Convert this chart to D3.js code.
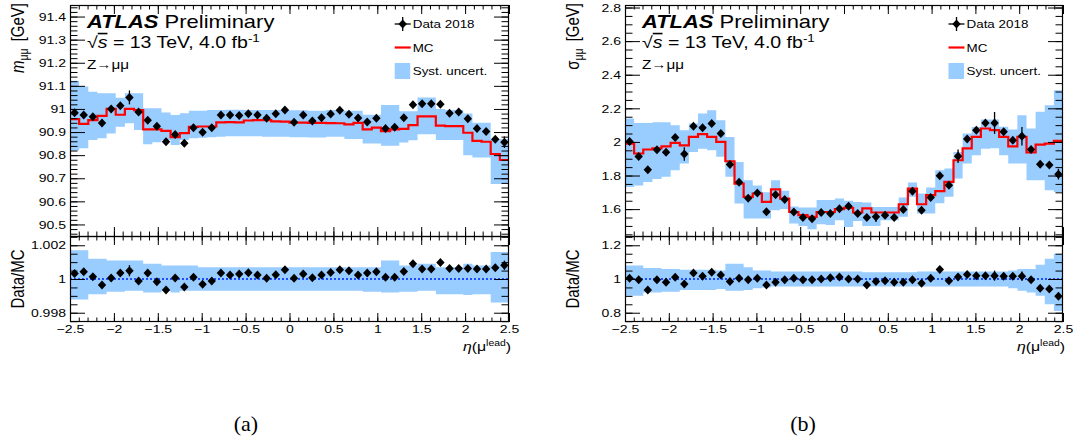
<!DOCTYPE html>
<html><head><meta charset="utf-8">
<script src="https://cdn.jsdelivr.net/npm/d3@7"></script>
<style>body{margin:0;background:#fff;} svg{display:block;}</style>
</head><body>
<svg id="c" width="1083" height="438"></svg>
<script>
// ---------------- data ----------------
const etaRange = [-2.5, 2.5];
const nBins = 48;

// (a) mean mass m_mumu [GeV]
const massData = [90.984,90.974,90.966,90.939,91.000,91.014,91.050,90.987,90.951,90.925,90.858,90.889,90.851,90.919,90.899,90.919,90.974,90.974,90.972,90.979,90.974,90.960,90.979,90.995,90.942,90.974,90.948,90.962,90.978,90.994,90.977,90.961,90.943,90.960,90.915,90.921,90.962,91.018,91.023,91.023,91.020,90.981,90.987,90.958,90.915,90.902,90.869,90.856];
const massErr  = [0.007,0.007,0.007,0.007,0.007,0.007,0.030,0.007,0.007,0.007,0.007,0.007,0.007,0.016,0.007,0.007,0.007,0.007,0.007,0.007,0.007,0.007,0.007,0.007,0.007,0.007,0.007,0.007,0.007,0.007,0.007,0.007,0.007,0.007,0.007,0.007,0.007,0.007,0.007,0.007,0.007,0.007,0.007,0.007,0.008,0.010,0.012,0.025];
const massMC   = [90.956,90.935,90.952,90.970,91.000,90.975,91.000,90.995,90.912,90.912,90.905,90.878,90.895,90.922,90.924,90.924,90.942,90.943,90.942,90.950,90.952,90.952,90.946,90.945,90.941,90.941,90.940,90.940,90.939,90.938,90.933,90.940,90.912,90.919,90.904,90.912,90.914,90.930,90.968,90.968,90.928,90.926,90.926,90.897,90.862,90.858,90.805,90.779];
const massSystHi = [91.122,91.097,91.075,91.068,91.068,91.049,91.068,91.068,91.003,91.003,90.985,90.974,90.981,90.992,90.992,90.995,90.995,90.996,90.996,90.995,90.995,90.995,90.995,90.995,90.994,90.994,90.992,90.992,90.995,90.995,90.992,90.992,90.975,90.975,91.017,91.017,90.990,90.990,91.050,91.050,91.000,90.995,90.995,90.980,90.940,90.940,90.870,90.870];
const massSystLo = [90.820,90.830,90.866,90.873,90.894,90.923,90.938,90.909,90.847,90.856,90.866,90.844,90.866,90.873,90.875,90.878,90.880,90.882,90.882,90.882,90.882,90.880,90.880,90.880,90.878,90.878,90.876,90.876,90.880,90.880,90.870,90.870,90.850,90.850,90.841,90.841,90.855,90.865,90.890,90.890,90.866,90.866,90.866,90.800,90.790,90.790,90.675,90.675];
const massRatio = [1.00033,1.00043,1.00013,0.99965,1.00006,1.00035,1.00049,0.99988,1.00035,0.99984,0.99935,1.00006,0.99953,1.00010,0.99969,0.99988,1.00035,1.00023,1.00030,1.00037,1.00023,1.00004,1.00025,1.00055,1.00004,1.00030,1.00008,1.00023,1.00039,1.00055,1.00049,1.00023,1.00035,1.00043,1.00010,1.00010,1.00045,1.00090,1.00059,1.00059,1.00098,1.00062,1.00062,1.00062,1.00059,1.00059,1.00066,1.00082];
const massRatioErr = [0.00008,0.00008,0.00008,0.00008,0.00008,0.00008,0.00033,0.00008,0.00008,0.00008,0.00008,0.00008,0.00008,0.00018,0.00008,0.00008,0.00008,0.00008,0.00008,0.00008,0.00008,0.00008,0.00008,0.00008,0.00008,0.00008,0.00008,0.00008,0.00008,0.00008,0.00008,0.00008,0.00008,0.00008,0.00008,0.00008,0.00008,0.00008,0.00008,0.00008,0.00008,0.00008,0.00008,0.00008,0.00009,0.00011,0.00013,0.00027];
const massRatioHi = [1.0017,1.0017,1.0012,1.0012,1.0011,1.0011,1.0011,1.0011,1.0009,1.0009,1.0008,1.0008,1.0008,1.0008,1.0007,1.0007,1.0007,1.0007,1.0007,1.0007,1.0007,1.0007,1.0007,1.0007,1.0007,1.0007,1.0007,1.0007,1.0007,1.0007,1.0007,1.0007,1.0007,1.0007,1.0011,1.0011,1.0008,1.0008,1.0009,1.0009,1.0007,1.0007,1.0007,1.0009,1.0008,1.0008,1.0016,1.0016];
const massRatioLo = [0.99878,0.99878,0.99910,0.99910,0.99925,0.99925,0.99930,0.99930,0.99920,0.99920,0.99930,0.99920,0.99930,0.99930,0.99930,0.99930,0.99930,0.99930,0.99930,0.99930,0.99930,0.99930,0.99930,0.99930,0.99930,0.99930,0.99930,0.99930,0.99930,0.99930,0.99930,0.99930,0.99925,0.99925,0.99920,0.99920,0.99925,0.99925,0.99930,0.99930,0.99910,0.99910,0.99910,0.99905,0.99910,0.99910,0.99860,0.99860];

// (b) width sigma_mumu [GeV]
const widthData = [2.003,1.913,1.834,1.953,1.938,2.026,1.928,2.094,2.085,2.109,2.050,1.866,1.760,1.665,1.696,1.585,1.685,1.657,1.583,1.550,1.542,1.580,1.574,1.602,1.617,1.574,1.550,1.554,1.564,1.550,1.598,1.707,1.593,1.669,1.798,1.742,1.915,2.018,2.070,2.113,2.113,2.060,2.010,2.034,1.955,1.867,1.863,1.808];
const widthErr  = [0.010,0.010,0.010,0.010,0.010,0.010,0.040,0.010,0.010,0.010,0.010,0.010,0.010,0.010,0.012,0.010,0.010,0.010,0.010,0.010,0.010,0.010,0.010,0.010,0.010,0.010,0.010,0.030,0.010,0.010,0.010,0.010,0.010,0.010,0.012,0.010,0.040,0.012,0.012,0.012,0.065,0.012,0.012,0.055,0.012,0.015,0.015,0.032];
const widthMC   = [1.990,1.931,1.955,1.961,1.974,1.994,1.980,2.030,2.046,2.030,2.000,1.885,1.752,1.673,1.693,1.643,1.717,1.663,1.583,1.564,1.554,1.583,1.583,1.600,1.607,1.580,1.604,1.580,1.580,1.580,1.629,1.722,1.629,1.683,1.707,1.762,1.891,1.961,2.030,2.080,2.070,2.030,1.974,2.030,1.937,1.984,1.990,2.006];
const widthSystHi = [2.139,2.113,2.113,2.117,2.117,2.099,2.070,2.109,2.169,2.189,2.129,2.030,1.881,1.772,1.740,1.700,1.772,1.710,1.615,1.610,1.610,1.655,1.655,1.663,1.650,1.643,1.640,1.613,1.613,1.613,1.669,1.758,1.693,1.729,1.832,1.842,1.940,2.050,2.089,2.133,2.133,2.090,2.074,2.159,2.080,2.179,2.218,2.308];
const widthSystLo = [1.732,1.740,1.762,1.780,1.792,1.832,1.871,1.940,1.960,1.950,1.911,1.792,1.633,1.544,1.544,1.544,1.593,1.600,1.514,1.500,1.480,1.510,1.505,1.534,1.494,1.530,1.500,1.500,1.534,1.534,1.554,1.673,1.574,1.574,1.635,1.673,1.782,1.871,1.921,1.960,1.962,1.921,1.871,1.871,1.772,1.772,1.712,1.702];
const widthRatio = [1.005,0.995,0.935,0.995,0.980,1.010,0.970,1.035,1.017,1.040,1.024,0.985,1.005,0.995,1.005,0.964,0.980,0.995,1.005,0.995,0.995,1.000,1.007,1.012,1.000,1.000,0.964,0.985,0.990,0.980,0.980,0.995,0.975,1.005,1.057,0.990,1.012,1.027,1.020,1.020,1.020,1.017,1.017,1.017,0.995,0.945,0.940,0.897];
const widthRatioErr = [0.005,0.005,0.005,0.005,0.005,0.005,0.020,0.005,0.005,0.005,0.005,0.005,0.005,0.005,0.006,0.005,0.005,0.005,0.005,0.005,0.005,0.005,0.005,0.005,0.005,0.005,0.005,0.018,0.005,0.005,0.005,0.005,0.005,0.005,0.006,0.005,0.020,0.006,0.006,0.006,0.030,0.006,0.006,0.028,0.006,0.008,0.008,0.016];
const widthRatioHi = [1.080,1.080,1.065,1.065,1.060,1.060,1.055,1.055,1.055,1.055,1.050,1.090,1.090,1.070,1.050,1.050,1.045,1.045,1.045,1.045,1.045,1.045,1.045,1.045,1.045,1.045,1.040,1.040,1.040,1.040,1.040,1.040,1.045,1.045,1.045,1.045,1.045,1.045,1.045,1.045,1.045,1.045,1.050,1.060,1.060,1.085,1.120,1.150];
const widthRatioLo = [0.900,0.900,0.920,0.920,0.925,0.925,0.935,0.935,0.935,0.935,0.940,0.930,0.930,0.935,0.945,0.950,0.955,0.955,0.955,0.955,0.955,0.955,0.955,0.955,0.955,0.955,0.955,0.955,0.955,0.955,0.955,0.955,0.955,0.955,0.955,0.955,0.955,0.955,0.955,0.955,0.955,0.955,0.945,0.930,0.920,0.900,0.850,0.810];

const legendLabels = ["Data 2018", "MC", "Syst. uncert."];
const atlasLabel = "ATLAS";
const prelimLabel = "Preliminary";
const energyLabel = " = 13 TeV, 4.0 fb";
const processLabel = "Z\u2192\u03bc\u03bc";

// ---------------- drawing ----------------
const SX = 1.22;
const FONT = "'Liberation Sans', Arial, Helvetica, sans-serif";
const BAND = "#99ccff";
const svg = d3.select("#c");
const edges = d3.range(nBins + 1).map(k => etaRange[0] + k * (etaRange[1] - etaRange[0]) / nBins);
const centers = d3.range(nBins).map(k => (edges[k] + edges[k + 1]) / 2);
const UT = 5, UB = 236, LT = 236, LB = 322;
const diamond = "M0,-4.5L4.2,0L0,4.5L-4.2,0Z";

function stext(parent, x, y, size, extra) {
  return parent.append("text")
    .attr("transform", `translate(${x},${y}) scale(${SX},1)` + (extra || ""))
    .attr("font-family", FONT).attr("font-size", size).attr("fill", "#000");
}

function stretchLabels(g, size) {
  g.selectAll("text").each(function () {
    const t = d3.select(this);
    const xv = +t.attr("x") || 0;
    t.attr("x", xv / SX).attr("transform", `scale(${SX},1)`)
      .attr("font-family", FONT).attr("font-size", size).attr("fill", "#000");
  });
}

function panel(cfg, idx) {
  const { x0, x1 } = cfg;
  const g = svg.append("g");
  const x = d3.scaleLinear().domain(etaRange).range([x0, x1]);
  const yU = d3.scaleLinear().domain(cfg.yDomain).range([UB, UT]);
  const yL = d3.scaleLinear().domain(cfg.rDomain).range([LB, LT]);

  const defs = g.append("defs");
  defs.append("clipPath").attr("id", "cu" + idx).append("rect")
    .attr("x", x0).attr("y", UT).attr("width", x1 - x0).attr("height", UB - UT);
  defs.append("clipPath").attr("id", "cl" + idx).append("rect")
    .attr("x", x0).attr("y", LT).attr("width", x1 - x0).attr("height", LB - LT);

  // ---- upper panel ----
  const up = g.append("g").attr("clip-path", `url(#cu${idx})`);
  const bandU = d3.range(nBins + 1).map(i => ({ e: edges[i], hi: cfg.hi[Math.min(i, nBins - 1)], lo: cfg.lo[Math.min(i, nBins - 1)] }));
  up.append("path").datum(bandU)
    .attr("d", d3.area().curve(d3.curveStepAfter).x(d => x(d.e)).y0(d => yU(d.lo)).y1(d => yU(d.hi)))
    .attr("fill", BAND).attr("stroke", "none");
  const mcPts = d3.range(nBins + 1).map(i => ({ e: edges[i], v: cfg.mc[Math.min(i, nBins - 1)] }));
  up.append("path").datum(mcPts)
    .attr("d", d3.line().curve(d3.curveStepAfter).x(d => x(d.e)).y(d => yU(d.v)))
    .attr("fill", "none").attr("stroke", "#ff0000").attr("stroke-width", 2.2);
  const pts = g.append("g");
  cfg.data.forEach((v, i) => {
    pts.append("line").attr("x1", x(centers[i])).attr("x2", x(centers[i]))
      .attr("y1", yU(v - cfg.err[i])).attr("y2", yU(v + cfg.err[i]))
      .attr("stroke", "#000").attr("stroke-width", 1.3);
    pts.append("path").attr("d", diamond)
      .attr("transform", `translate(${x(centers[i])},${yU(v)})`).attr("fill", "#000");
  });

  // ---- lower panel ----
  const lo = g.append("g").attr("clip-path", `url(#cl${idx})`);
  const bandL = d3.range(nBins + 1).map(i => ({ e: edges[i], hi: cfg.rHi[Math.min(i, nBins - 1)], lo: cfg.rLo[Math.min(i, nBins - 1)] }));
  lo.append("path").datum(bandL)
    .attr("d", d3.area().curve(d3.curveStepAfter).x(d => x(d.e)).y0(d => yL(d.lo)).y1(d => yL(d.hi)))
    .attr("fill", BAND);
  lo.append("line").attr("x1", x0).attr("x2", x1).attr("y1", yL(1)).attr("y2", yL(1))
    .attr("stroke", "#1d4dff").attr("stroke-width", 2).attr("stroke-dasharray", "2,2");
  const rp = g.append("g");
  cfg.ratio.forEach((v, i) => {
    rp.append("line").attr("x1", x(centers[i])).attr("x2", x(centers[i]))
      .attr("y1", yL(v - cfg.rErr[i])).attr("y2", yL(v + cfg.rErr[i]))
      .attr("stroke", "#000").attr("stroke-width", 1.3);
    rp.append("path").attr("d", diamond)
      .attr("transform", `translate(${x(centers[i])},${yL(v)})`).attr("fill", "#000");
  });

  // ---- axes ----
  const fmt = d3.format("~g");
  const xMaj = x.ticks(10), xMin = x.ticks(50);
  const ax = (gen, tx, ty, vals, len, lab) => {
    const a = g.append("g").attr("transform", `translate(${tx},${ty})`)
      .call(gen.tickValues(vals).tickSizeInner(-len).tickSizeOuter(0).tickPadding(lab ? lab : 3)
        .tickFormat(lab ? fmt : ""));
    a.select(".domain").remove();
    a.selectAll("line").attr("stroke", "#000").attr("stroke-width", 1);
    return a;
  };
  // upper
  ax(d3.axisBottom(x), 0, UB, xMaj, 9);
  ax(d3.axisBottom(x), 0, UB, xMin, 4.5);
  ax(d3.axisTop(x), 0, UT, xMaj, 9);
  ax(d3.axisTop(x), 0, UT, xMin, 4.5);
  const yuMaj = yU.ticks(cfg.uMaj), yuMin = yU.ticks(cfg.uMin);
  stretchLabels(ax(d3.axisLeft(yU), x0, 0, yuMaj, 15, 4), 11.5);
  ax(d3.axisLeft(yU), x0, 0, yuMin, 7.5);
  ax(d3.axisRight(yU), x1, 0, yuMaj, 15);
  ax(d3.axisRight(yU), x1, 0, yuMin, 7.5);
  // lower
  stretchLabels(ax(d3.axisBottom(x), 0, LB, xMaj, 9, 3), 11.5);
  ax(d3.axisBottom(x), 0, LB, xMin, 4.5);
  ax(d3.axisTop(x), 0, LT, xMaj, 9);
  ax(d3.axisTop(x), 0, LT, xMin, 4.5);
  const ylMaj = yL.ticks(3), ylMin = yL.ticks(10);
  stretchLabels(ax(d3.axisLeft(yL), x0, 0, ylMaj, 15, 4), 11.5);
  ax(d3.axisLeft(yL), x0, 0, ylMin, 7.5);
  ax(d3.axisRight(yL), x1, 0, ylMaj, 15);
  ax(d3.axisRight(yL), x1, 0, ylMin, 7.5);

  // frames
  g.append("rect").attr("x", x0 + 0.5).attr("y", UT + 0.5).attr("width", x1 - x0 - 1).attr("height", UB - UT)
    .attr("fill", "none").attr("stroke", "#000").attr("stroke-width", 1.2);
  g.append("rect").attr("x", x0 + 0.5).attr("y", LT + 0.5).attr("width", x1 - x0 - 1).attr("height", LB - LT - 1)
    .attr("fill", "none").attr("stroke", "#000").attr("stroke-width", 1.2);

  // ---- titles ----
  const ty = stext(g, x0 - 46.5, 3, 15, " rotate(-90)").attr("text-anchor", "end");
  if (cfg.italicY) ty.append("tspan").attr("font-style", "italic").text(cfg.ySym);
  else ty.append("tspan").text(cfg.ySym);
  ty.append("tspan").attr("font-size", 10.5).attr("dy", 3.5).text("\u03bc\u03bc");
  ty.append("tspan").attr("dy", -3.5).text("\u2009 [GeV]");

  stext(g, x0 - 46.5, (LT + LB) / 2, 15, " rotate(-90)").attr("text-anchor", "middle").text("Data/MC");

  const tx = stext(g, x1 + 2, 351, 13).attr("text-anchor", "end");
  tx.append("tspan").attr("font-style", "italic").text("\u03b7");
  tx.append("tspan").text("(\u03bc");
  tx.append("tspan").attr("font-size", 8.5).attr("dy", -5.5).text("lead");
  tx.append("tspan").attr("dy", 5.5).text(")");

  // ---- ATLAS label ----
  const a1 = stext(g, x0 + 17, 28, 18);
  a1.append("tspan").attr("font-weight", "bold").attr("font-style", "italic").text(atlasLabel);
  a1.append("tspan").text(" " + prelimLabel);
  const a2 = stext(g, x0 + 17, 48, 16);
  a2.append("tspan").text("\u221a");
  a2.append("tspan").attr("font-style", "italic").attr("text-decoration", "overline").text("s");
  a2.append("tspan").text(energyLabel);
  a2.append("tspan").attr("font-size", 11).attr("dy", -6.5).text("-1");
  stext(g, x0 + 17, 69, 12.5).text(processLabel);

  // ---- legend ----
  const lx = cfg.legX;
  g.append("line").attr("x1", lx - 8).attr("x2", lx + 8).attr("y1", 24).attr("y2", 24).attr("stroke", "#000").attr("stroke-width", 1.3);
  g.append("line").attr("x1", lx).attr("x2", lx).attr("y1", 17).attr("y2", 31).attr("stroke", "#000").attr("stroke-width", 1.3);
  g.append("path").attr("d", diamond).attr("transform", `translate(${lx},24)`).attr("fill", "#000");
  g.append("line").attr("x1", lx - 8).attr("x2", lx + 8).attr("y1", 47.5).attr("y2", 47.5).attr("stroke", "#ff0000").attr("stroke-width", 2.2);
  g.append("rect").attr("x", lx - 8).attr("y", 63).attr("width", 15.5).attr("height", 16).attr("fill", BAND);
  legendLabels.forEach((s, i) => stext(g, lx + 10, [28.3, 51.7, 75][i], 11).text(s));

  // caption
  g.append("text").attr("x", cfg.capX).attr("y", 431).attr("text-anchor", "middle")
    .attr("font-family", "'Liberation Serif', 'Times New Roman', serif").attr("font-size", 22).text(cfg.caption);
}

panel({
  x0: 70, x1: 509, yDomain: [90.45, 91.45], rDomain: [0.99745, 1.00255], uMaj: 10, uMin: 50,
  data: massData, err: massErr, mc: massMC, hi: massSystHi, lo: massSystLo,
  ratio: massRatio, rErr: massRatioErr, rHi: massRatioHi, rLo: massRatioLo,
  ySym: "m", italicY: true, legX: 402.7, capX: 246, caption: "(a)"
}, 0);

panel({
  x0: 625, x1: 1063, yDomain: [1.44, 2.815], rDomain: [0.745, 1.255], uMaj: 7, uMin: 28,
  data: widthData, err: widthErr, mc: widthMC, hi: widthSystHi, lo: widthSystLo,
  ratio: widthRatio, rErr: widthRatioErr, rHi: widthRatioHi, rLo: widthRatioLo,
  ySym: "\u03c3", italicY: false, legX: 956.5, capX: 803, caption: "(b)"
}, 1);
</script>
</body></html>
